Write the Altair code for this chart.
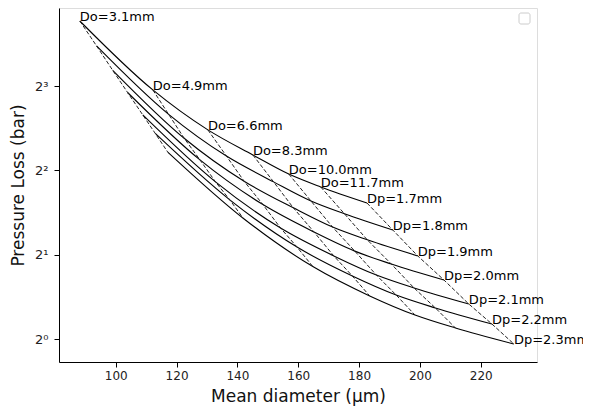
import altair as alt
import pandas as pd

# Nozzle parameter grid
dp_values = [1.7, 1.8, 1.9, 2.0, 2.1, 2.2, 2.3]          # mm (solid lines)
do_values = [3.1, 4.9, 6.6, 8.3, 10.0, 11.7, 13.4]        # mm (dashed lines)

# Mean diameter (µm): one row per Dp, columns follow do_values
mean_diameter = [
    [88.2, 112.2, 130.3, 145.1, 156.9, 167.4, 182.6],
    [93.7, 117.4, 136.4, 151.9, 164.2, 175.2, 191.1],
    [99.0, 122.5, 142.2, 158.4, 171.3, 182.7, 199.3],
    [103.9, 127.7, 148.4, 165.2, 178.6, 190.6, 207.9],
    [108.9, 132.8, 154.2, 171.7, 185.7, 198.1, 216.1],
    [113.0, 137.5, 159.6, 177.8, 192.2, 205.1, 223.7],
    [117.1, 141.9, 164.8, 183.5, 198.4, 211.7, 230.9],
]
# Pressure loss (bar): same layout
pressure_loss = [
    [13.66, 7.75, 5.58, 4.54, 3.88, 3.49, 3.06],
    [11.13, 6.34, 4.50, 3.64, 3.11, 2.80, 2.45],
    [9.11, 5.21, 3.66, 2.94, 2.51, 2.26, 1.98],
    [7.59, 4.36, 3.02, 2.41, 2.06, 1.853, 1.625],
    [6.31, 3.64, 2.49, 1.98, 1.692, 1.521, 1.333],
    [5.42, 3.14, 2.13, 1.679, 1.436, 1.291, 1.131],
    [4.65, 2.70, 1.814, 1.425, 1.218, 1.095, 0.960],
]

rows = []
for i, dp in enumerate(dp_values):
    for j, do in enumerate(do_values):
        rows.append({"dp": dp, "do": do, "i": i, "j": j,
                     "x": mean_diameter[i][j], "y": pressure_loss[i][j]})
df = pd.DataFrame(rows)

do_labels = pd.DataFrame([
    {"x": mean_diameter[0][j], "y": pressure_loss[0][j], "t": f"Do={do_values[j]:.1f}mm"}
    for j in range(len(do_values) - 1)
])
dp_labels = pd.DataFrame([
    {"x": mean_diameter[i][-1], "y": pressure_loss[i][-1], "t": f"Dp={dp_values[i]:.1f}mm"}
    for i in range(len(dp_values))
])

FONT = "DejaVu Sans"
xscale = alt.Scale(domain=[81.35, 238.5], nice=False, zero=False)
yscale = alt.Scale(type="log", base=2, domain=[0.828, 15.2], nice=False)

xenc = alt.X("x:Q", scale=xscale,
             axis=alt.Axis(title="Mean diameter (µm)", values=[100, 120, 140, 160, 180, 200, 220],
                           grid=False, tickSize=5, labelFontSize=12, titleFontSize=17,
                           titleFontWeight="normal", labelColor="#222", titleColor="#111",
                           domainColor="black", tickColor="black", labelPadding=3, titlePadding=7))
yenc = alt.Y("y:Q", scale=yscale,
             axis=alt.Axis(title="Pressure Loss (bar)", values=[1, 2, 4, 8], grid=False, tickSize=5,
                           labelExpr="datum.value == 1 ? '2⁰' : datum.value == 2 ? '2¹' : datum.value == 4 ? '2²' : '2³'",
                           labelFontSize=13, titleFontSize=17, titleFontWeight="normal",
                           labelColor="#222", titleColor="#111", domainColor="black",
                           tickColor="black", labelPadding=6, titlePadding=7))

solid = alt.Chart(df).mark_line(color="black", strokeWidth=1.1, interpolate="monotone").encode(
    x=xenc, y=yenc, detail="dp:N", order="j:Q")
dashed = alt.Chart(df).mark_line(color="#222", strokeWidth=1, strokeDash=[4, 2]).encode(
    x="x:Q", y="y:Q", detail="do:N", order="i:Q")
t1 = alt.Chart(do_labels).mark_text(align="left", baseline="alphabetic", fontSize=13,
                                    font=FONT, color="black").encode(x="x:Q", y="y:Q", text="t:N")
t2 = alt.Chart(dp_labels).mark_text(align="left", baseline="alphabetic", fontSize=13,
                                    font=FONT, color="black").encode(x="x:Q", y="y:Q", text="t:N")
legend_box = alt.Chart(pd.DataFrame({"a": [0]})).mark_rect(
    fill="white", stroke="#cccccc", strokeWidth=1, cornerRadius=2).encode(
    x=alt.value(460), x2=alt.value(471), y=alt.value(5), y2=alt.value(16))

chart = alt.layer(solid, dashed, t1, t2, legend_box).properties(
    width=478, height=354,
    padding={"left": 51, "top": 0, "right": 46, "bottom": 47},
    autosize="none",
).configure_view(stroke="black", strokeWidth=1.2).configure(font=FONT)

chart.save("out.html", embed_options={"renderer": "svg", "actions": False})
